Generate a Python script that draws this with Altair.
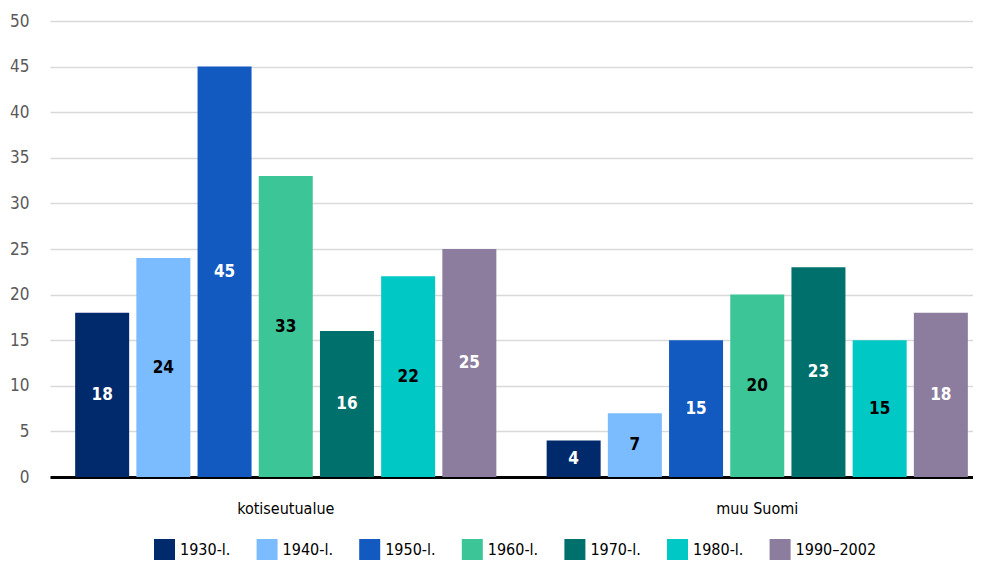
import altair as alt
import pandas as pd

groups = ["kotiseutualue", "muu Suomi"]
periods = ["1930-l.", "1940-l.", "1950-l.", "1960-l.", "1970-l.", "1980-l.", "1990\u20132002"]
kotiseutualue = [18, 24, 45, 33, 16, 22, 25]
muu_suomi = [4, 7, 15, 20, 23, 15, 18]
colors = ["#002A6C", "#7ABCFF", "#125ABF", "#3CC597", "#00706D", "#00C8C5", "#8C7D9E"]
dark_periods = ["1930-l.", "1950-l.", "1970-l.", "1990\u20132002"]

rows = []
for g, vals in zip(groups, [kotiseutualue, muu_suomi]):
    for p, v in zip(periods, vals):
        rows.append({"group": g, "period": p, "value": v})
df = pd.DataFrame(rows)

FONT = "DejaVu Sans Condensed"

base = alt.Chart(df).encode(
    x=alt.X("group:N", sort=groups, title=None,
            scale=alt.Scale(paddingInner=0, paddingOuter=0, range=[0, 943]),
            axis=alt.Axis(labelAngle=0, ticks=False, grid=False, domain=True,
                          domainColor="#000000", domainWidth=3, labelFontSize=16,
                          labelFont=FONT, labelColor="#000000", labelPadding=23)),
    xOffset=alt.XOffset("period:N", sort=periods,
                        scale=alt.Scale(paddingInner=0.1176, paddingOuter=0.411)),
)

bars = base.mark_bar().encode(
    y=alt.Y("value:Q", title=None,
            scale=alt.Scale(domain=[0, 50]),
            axis=alt.Axis(values=list(range(0, 51, 5)), ticks=False, domain=False,
                          gridColor="#D9D9D9", gridWidth=1.5, labelFontSize=17,
                          labelFont=FONT, labelColor="#595959", labelPadding=21)),
    color=alt.Color("period:N", sort=periods,
                    scale=alt.Scale(domain=periods, range=colors),
                    legend=alt.Legend(title=None, orient="none", direction="horizontal",
                                      columns=7, legendX=104, legendY=518,
                                      symbolType="square", symbolSize=441,
                                      symbolStrokeWidth=0, symbolOpacity=1,
                                      labelFontSize=16, labelFont=FONT,
                                      labelColor="#000000", labelOffset=5,
                                      columnPadding=25.6, padding=0)),
)

labels = base.mark_text(font=FONT, fontSize=17, fontWeight="bold", baseline="middle").encode(
    y=alt.Y("mid:Q"),
    text=alt.Text("value:Q"),
    color=alt.condition(alt.FieldOneOfPredicate(field="period", oneOf=dark_periods),
                        alt.value("#FFFFFF"), alt.value("#000000")),
).transform_calculate(mid="datum.value / 2")

chart = alt.layer(bars, labels).properties(
    width=923, height=456,
    autosize=alt.AutoSizeParams(type="none"),
    padding={"left": 42, "top": 13, "right": 0, "bottom": 83},
).configure(background="#FFFFFF").configure_view(stroke=None)

chart.save("out.html", embed_options={"renderer": "svg", "actions": False})
